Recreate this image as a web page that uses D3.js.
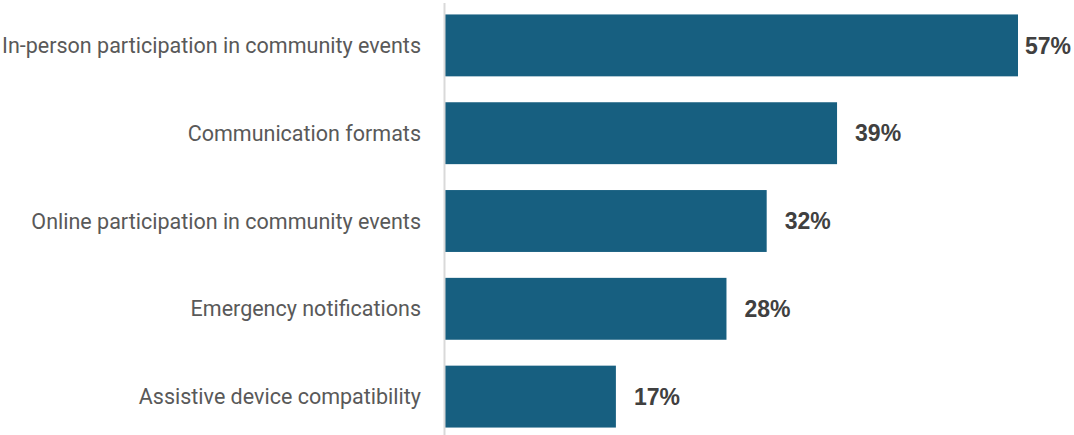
<!DOCTYPE html>
<html>
<head>
<meta charset="utf-8">
<script src="https://cdn.jsdelivr.net/npm/d3@7"></script>
<style>
  html, body { margin: 0; padding: 0; background: #ffffff; }
  svg { display: block; }
</style>
</head>
<body>
<svg id="chart" width="1074" height="435"></svg>
<script>
// Share of respondents by accessibility area
const categories = [
  "In-person participation in community events",
  "Communication formats",
  "Online participation in community events",
  "Emergency notifications",
  "Assistive device compatibility"
];
const values = [57, 39, 32, 28, 17];

const width = 1074, height = 435;
const axisX = 445;

const svg = d3.select("#chart");

const x = d3.scaleLinear().domain([0, 57]).range([axisX, 1018]);
const y = d3.scaleBand().domain(categories).range([1.5, 440.5]).paddingInner(0.295).paddingOuter(0.1475);

// bars
svg.append("g").selectAll("rect")
  .data(values)
  .join("rect")
  .attr("x", x(0))
  .attr("y", (d, i) => y(categories[i]))
  .attr("width", d => x(d) - x(0))
  .attr("height", y.bandwidth())
  .attr("fill", "#175f80");

// vertical baseline
svg.append("line")
  .attr("x1", axisX - 0.5).attr("x2", axisX - 0.5)
  .attr("y1", 3).attr("y2", height)
  .attr("stroke", "#d9d9d9")
  .attr("stroke-width", 2);

// category labels
svg.append("g").selectAll("text")
  .data(categories)
  .join("text")
  .attr("x", 421)
  .attr("y", d => y(d) + y.bandwidth() / 2)
  .attr("dy", "0.35em")
  .attr("text-anchor", "end")
  .attr("font-family", "Roboto, 'Open Sans', sans-serif")
  .attr("font-size", 21.5)
  .attr("fill", "#595959")
  .text(d => d);

// value labels
const valueLabels = svg.append("g").selectAll("text")
  .data(values)
  .join("text")
  .attr("y", (d, i) => y(categories[i]) + y.bandwidth() / 2)
  .attr("dy", "0.36em")
  .attr("font-family", "'Liberation Sans', Arial, sans-serif")
  .attr("font-weight", "bold")
  .attr("font-size", 23)
  .attr("fill", "#404040")
  .text(d => d + "%");

valueLabels.attr("x", function(d) {
  const w = this.getComputedTextLength();
  return Math.min(x(d) + 18, width - 3 - w);
});
</script>
</body>
</html>
